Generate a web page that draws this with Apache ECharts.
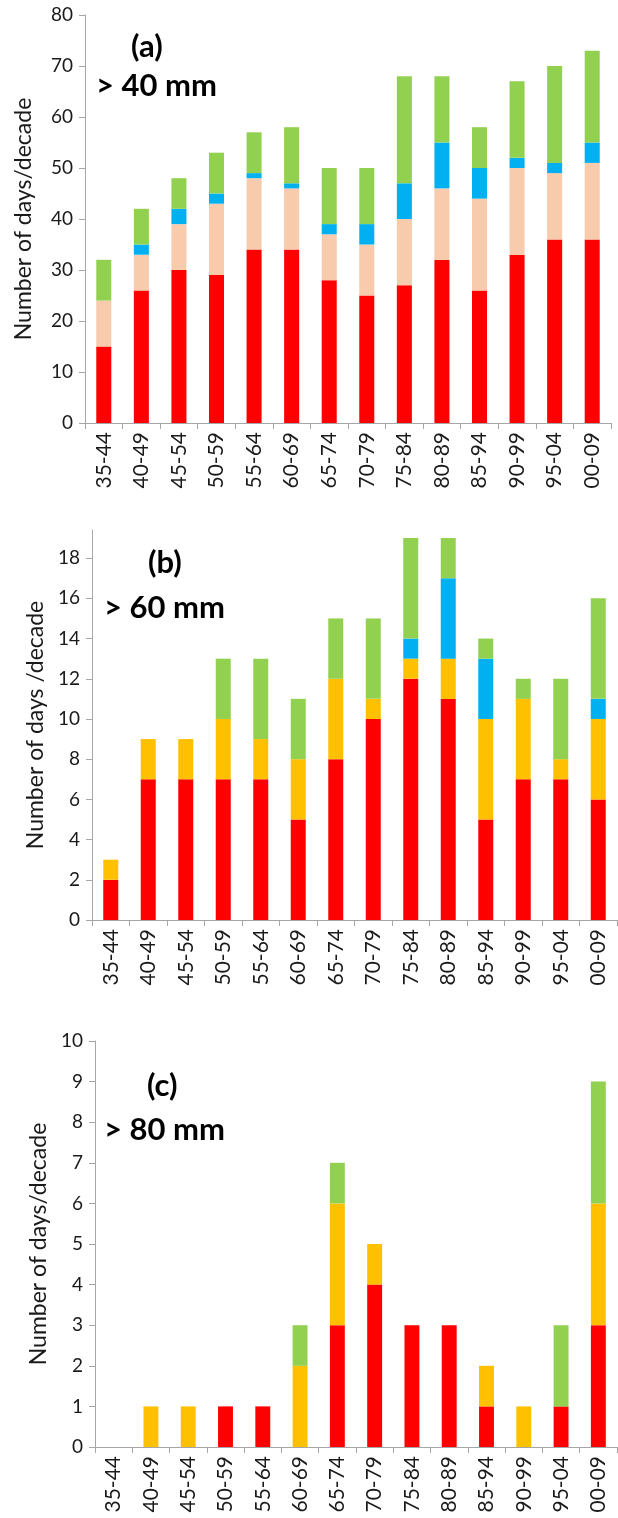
<!DOCTYPE html>
<html><head><meta charset="utf-8">
<script src="https://cdn.jsdelivr.net/npm/echarts@6/dist/echarts.min.js"></script>
<style>html,body{margin:0;padding:0;background:#fff}#c{width:618px;height:1518px}</style>
</head><body><div id="c"></div>
<script>
const categories = ['35-44','40-49','45-54','50-59','55-64','60-69','65-74','70-79','75-84','80-89','85-94','90-99','95-04','00-09'];

// Panel (a) > 40 mm (stacked segments)
const aRed   = [15,26,30,29,34,34,28,25,27,32,26,33,36,36];
const aPeach = [ 9, 7, 9,14,14,12, 9,10,13,14,18,17,13,15];
const aBlue  = [ 0, 2, 3, 2, 1, 1, 2, 4, 7, 9, 6, 2, 2, 4];
const aGreen = [ 8, 7, 6, 8, 8,11,11,11,21,13, 8,15,19,18];

// Panel (b) > 60 mm
const bRed   = [2,7,7,7,7,5,8,10,12,11,5,7,7,6];
const bGold  = [1,2,2,3,2,3,4, 1, 1, 2,5,4,1,4];
const bBlue  = [0,0,0,0,0,0,0, 0, 1, 4,3,0,0,1];
const bGreen = [0,0,0,3,4,3,3, 4, 5, 2,1,1,4,5];

// Panel (c) > 80 mm
const cRed   = [0,0,0,1,1,0,3,4,3,3,1,0,1,3];
const cGold  = [0,1,1,0,0,2,3,1,0,0,1,1,0,3];
const cBlue  = [0,0,0,0,0,0,0,0,0,0,0,0,0,0];
const cGreen = [0,0,0,0,0,1,1,0,0,0,0,0,2,3];

const yTicksA = [0,10,20,30,40,50,60,70,80];
const yTicksB = [0,2,4,6,8,10,12,14,16,18];
const yTicksC = [0,1,2,3,4,5,6,7,8,9,10];

const panelTitles = ['(a)','(b)','(c)'];
const panelSubs = ['> 40 mm','> 60 mm','> 80 mm'];
const yNames = ['Number of days/decade','Number of days /decade','Number of days/decade'];

const RED='#FF0000', PEACH='#F8CBAD', BLUE='#00B0F0', GREEN='#92D050', GOLD='#FFC000';
const FONT='Lato';
const AX='#A6A6A6', TXT='#1a1a1a';

const chart = echarts.init(document.getElementById('c'));

function xAx(i){
  return {type:'category', gridIndex:i, data:categories,
    axisLine:{lineStyle:{color:AX,width:1}},
    axisTick:{show:true,length:6,lineStyle:{color:AX}},
    axisLabel:{rotate:90,fontFamily:FONT,fontSize:21,color:TXT,margin:9}};
}
function yAx(i,max,ticks,name,gap){
  return {type:'value', gridIndex:i, min:0, max:max,
    name:name, nameLocation:'middle', nameGap:gap,
    nameTextStyle:{fontFamily:FONT,fontSize:23,color:TXT},
    splitLine:{show:false},
    axisLine:{show:true,lineStyle:{color:AX,width:1}},
    axisTick:{show:true,length:6,lineStyle:{color:AX},customValues:ticks},
    axisLabel:{fontFamily:FONT,fontSize:19,color:TXT,margin:12,customValues:ticks}};
}
function ser(i,data,color){
  return {type:'bar', xAxisIndex:i, yAxisIndex:i, stack:'s'+i, data:data,
    barWidth:'40%', itemStyle:{color:color}, animation:false};
}
function ttl(text,left,top,size){
  return {text:text,left:left,top:top,padding:0,textStyle:{fontFamily:FONT,fontWeight:'bold',fontSize:size,color:'#000'}};
}

chart.setOption({
  animation:false,
  title:[
    ttl(panelTitles[0],131,31,31), ttl(panelSubs[0],96,70,31),
    ttl(panelTitles[1],148,547,31), ttl(panelSubs[1],104,592,31),
    ttl(panelTitles[2],147,1070,31), ttl(panelSubs[2],104,1114,31)
  ],
  grid:[
    {left:85,right:7,top:15,height:408},
    {left:92,right:1,top:530,height:390},
    {left:95,right:1,top:1041,height:406}
  ],
  xAxis:[xAx(0),xAx(1),xAx(2)],
  yAxis:[yAx(0,80,yTicksA,yNames[0],50), yAx(1,19.4,yTicksB,yNames[1],45), yAx(2,10,yTicksC,yNames[2],45)],
  series:[
    ser(0,aRed,RED),ser(0,aPeach,PEACH),ser(0,aBlue,BLUE),ser(0,aGreen,GREEN),
    ser(1,bRed,RED),ser(1,bGold,GOLD),ser(1,bBlue,BLUE),ser(1,bGreen,GREEN),
    ser(2,cRed,RED),ser(2,cGold,GOLD),ser(2,cBlue,BLUE),ser(2,cGreen,GREEN)
  ]
});
</script></body></html>
